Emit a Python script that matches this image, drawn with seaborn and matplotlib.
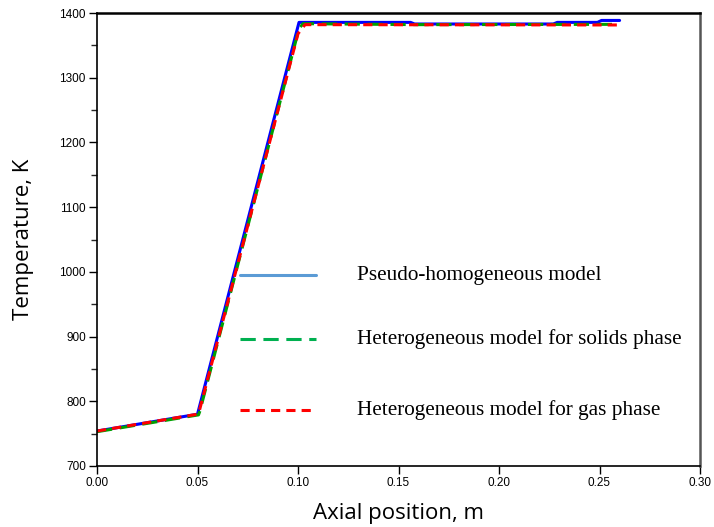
import matplotlib
matplotlib.use("Agg")
import matplotlib.pyplot as plt
import numpy as np
import pandas as pd
import seaborn as sns

# Axial temperature profiles
pseudo_x = [0.0, 0.05, 0.1005, 0.156, 0.158, 0.227, 0.229, 0.249, 0.251, 0.26]
pseudo_T = [754, 780, 1385.5, 1385.5, 1383, 1383, 1385.5, 1385.5, 1388.5, 1388.5]

solids_x = [0.0, 0.0505, 0.0512, 0.1005, 0.1025, 0.16, 0.26]
solids_T = [753, 779, 785, 1376, 1383.5, 1382, 1382.5]

gas_x = [0.0, 0.05, 0.0508, 0.1, 0.1035, 0.26]
gas_T = [754, 780, 784, 1368, 1382, 1381.5]

labels = [
    "Pseudo-homogeneous model",
    "Heterogeneous model for solids phase",
    "Heterogeneous model for gas phase",
]
line_colors = ["#0000FF", "#00A000", "#FF0000"]
legend_colors = ["#5B9BD5", "#00B050", "#FF0000"]

x_ticks = [0.00, 0.05, 0.10, 0.15, 0.20, 0.25, 0.30]
y_ticks = [700, 800, 900, 1000, 1100, 1200, 1300, 1400]

sns.set_theme(style="white")
plt.rcParams["font.family"] = ["Liberation Sans", "DejaVu Sans"]
plt.rcParams["text.color"] = "black"
plt.rcParams["axes.labelcolor"] = "black"

frames = []
for name, xs, ts in zip(labels, [pseudo_x, solids_x, gas_x],
                        [pseudo_T, solids_T, gas_T]):
    frames.append(pd.DataFrame({"x": xs, "T": ts, "model": name}))
df = pd.concat(frames, ignore_index=True)

fig = plt.figure(figsize=(7.14, 5.27), dpi=100)
ax = fig.add_axes([97 / 714, 1 - 466 / 527, 603 / 714, 453 / 527])

dashes = {labels[0]: "", labels[1]: (5, 2.5), labels[2]: (3, 2)}
sns.lineplot(data=df, x="x", y="T", hue="model", style="model",
             palette=dict(zip(labels, line_colors)), dashes=dashes,
             sort=False, linewidth=2.2, legend=False, ax=ax)

ax.set_xlim(0, 0.30)
ax.set_ylim(700, 1400)
ax.set_xticks(x_ticks)
ax.set_xticklabels([f"{v:.2f}" for v in x_ticks])
ax.set_yticks(y_ticks)
ax.set_yticks(np.arange(750, 1400, 100), minor=True)
ax.tick_params(axis="both", which="major", direction="out", length=6,
               width=1, labelsize=8.5, colors="black", pad=2,
               bottom=True, left=True)
ax.tick_params(axis="y", which="minor", direction="out", length=4,
               width=1, left=True)
for side in ["left", "bottom", "top"]:
    ax.spines[side].set_color("black")
    ax.spines[side].set_linewidth(1.2)
ax.spines["top"].set_linewidth(1.8)
ax.spines["right"].set_color("#555555")
ax.spines["right"].set_linewidth(1.8)

ax.set_xlabel("Axial position, m", fontsize=16, family=["Open Sans", "DejaVu Sans"],
              labelpad=10)
ax.set_ylabel("Temperature, K", fontsize=16, family=["Open Sans", "DejaVu Sans"],
              labelpad=18)

# free-standing legend drawn inside the axes
legend_y = [0.4216, 0.280, 0.1236]
legend_styles = ["-", (0, (5, 2.5)), (0, (3, 2))]
for lab, col, yy, ls in zip(labels, legend_colors, legend_y, legend_styles):
    ax.plot([0.237, 0.363], [yy, yy], transform=ax.transAxes, color=col,
            linestyle=ls, linewidth=2.2)
    ax.text(0.431, yy, lab, transform=ax.transAxes, va="center", ha="left",
            fontsize=15.3, family=["Liberation Serif", "DejaVu Serif"],
            color="black")

fig.savefig("out.png", dpi=100)
